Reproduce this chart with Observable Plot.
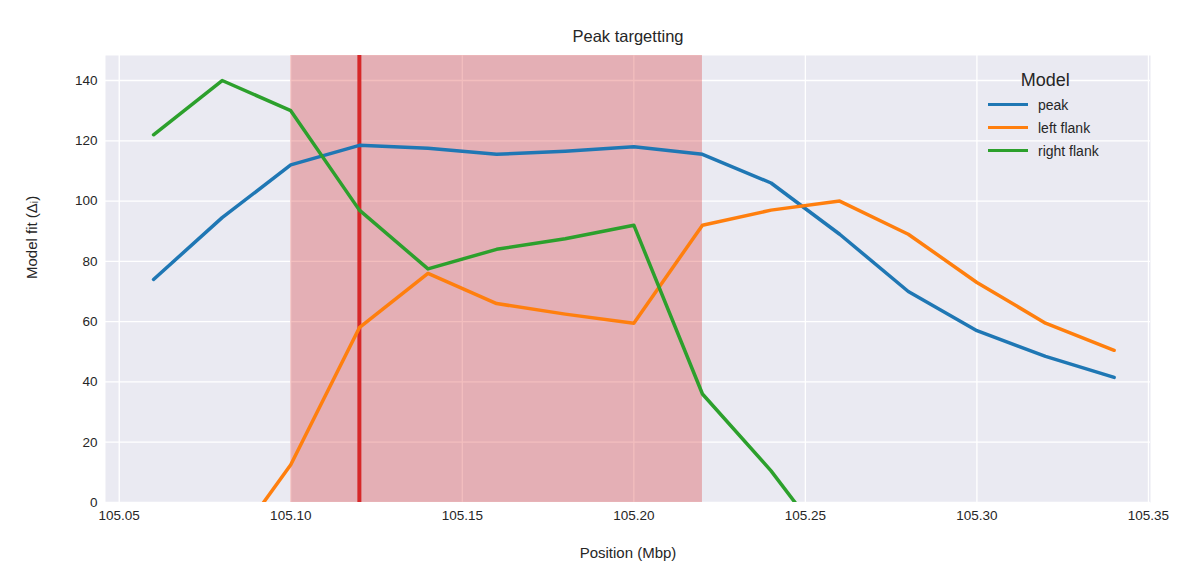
<!DOCTYPE html>
<html><head><meta charset="utf-8">
<script src="https://cdn.jsdelivr.net/npm/d3@7"></script>
<script src="https://cdn.jsdelivr.net/npm/@observablehq/plot@0.6"></script>
<style>
body{margin:0;background:#fff;font-family:"Liberation Sans",Arial,sans-serif;}
#wrap{position:relative;width:1186px;height:588px;}
#legend{position:absolute;left:984px;top:70px;font-size:14px;color:#262626;}
#legend .t{font-size:18px;text-align:center;margin-bottom:2px;margin-left:8px;}
#legend .r{display:flex;align-items:center;height:23px;}
#legend .sw{width:40px;height:3.5px;margin-right:10px;margin-left:4px;}
</style></head><body>
<div id="wrap"><div id="chart"></div>
<div id="legend"><div class="t">Model</div></div></div>
<script>
const positions = [105.06,105.08,105.10,105.12,105.14,105.16,105.18,105.20,105.22,105.24,105.26,105.28,105.30,105.32,105.34];
const peak = [74,94.5,112,118.5,117.5,115.5,116.5,118,115.5,106,89,70,57,48.5,41.5];
const leftFlank = [-50,-19,12.5,58,76,66,62.5,59.5,92,97,100,89,73,59.5,50.5];
const rightFlank = [122,140,130,97,77.5,84,87.5,92,36,10.5,-19.5,-50,-80,-110,-140];
const seriesNames = ["peak","left flank","right flank"];
const colors = ["#1f77b4","#ff7f0e","#2ca02c"];
const region = [{x1:105.10,x2:105.22}];
const target = [105.12];
const xTicks = [105.05,105.10,105.15,105.20,105.25,105.30,105.35];
const yTicks = [0,20,40,60,80,100,120,140];

const data = [];
[peak,leftFlank,rightFlank].forEach((s,i)=>s.forEach((v,j)=>data.push({x:positions[j],y:v,series:seriesNames[i]})));

const plot = Plot.plot({
  width:1186,height:588,
  marginTop:55,marginLeft:105,marginRight:36,marginBottom:86,
  style:{fontFamily:"Liberation Sans, Arial, sans-serif",fontSize:"13.5px",color:"#262626",background:"#fff"},
  x:{domain:[105.046,105.3506],ticks:xTicks,tickFormat:d=>d.toFixed(2),tickSize:0,tickPadding:8,label:null},
  y:{domain:[0,148.3],ticks:yTicks,tickSize:0,tickPadding:8,label:null},
  color:{domain:seriesNames,range:colors},
  marks:[
    Plot.frame({fill:"#eaeaf2",stroke:null}),
    Plot.gridX(xTicks,{stroke:"#fff",strokeOpacity:1,strokeWidth:1.3}),
    Plot.gridY(yTicks,{stroke:"#fff",strokeOpacity:1,strokeWidth:1.3}),
    Plot.rectX(region,{x1:"x1",x2:"x2",fill:"#d62728",fillOpacity:0.3}),
    Plot.ruleX(target,{stroke:"#d62728",strokeWidth:4}),
    Plot.line(data,{x:"x",y:"y",z:"series",stroke:"series",strokeWidth:3.5,clip:true}),
    Plot.text(["Peak targetting"],{frameAnchor:"top",dy:-25,fontSize:16.5,fill:"#262626"}),
    Plot.text(["Position (Mbp)"],{frameAnchor:"bottom",dy:55,fontSize:15,fill:"#262626"}),
    Plot.text(["Model fit (Δᵢ)"],{frameAnchor:"left",dx:-73,rotate:-90,fontSize:15,fill:"#262626"})
  ]
});
document.getElementById("chart").appendChild(plot);
const lg=document.getElementById("legend");
seriesNames.forEach((n,i)=>{const r=document.createElement("div");r.className="r";r.innerHTML=`<div class="sw" style="background:${colors[i]}"></div>${n}`;lg.appendChild(r);});
</script></body></html>
